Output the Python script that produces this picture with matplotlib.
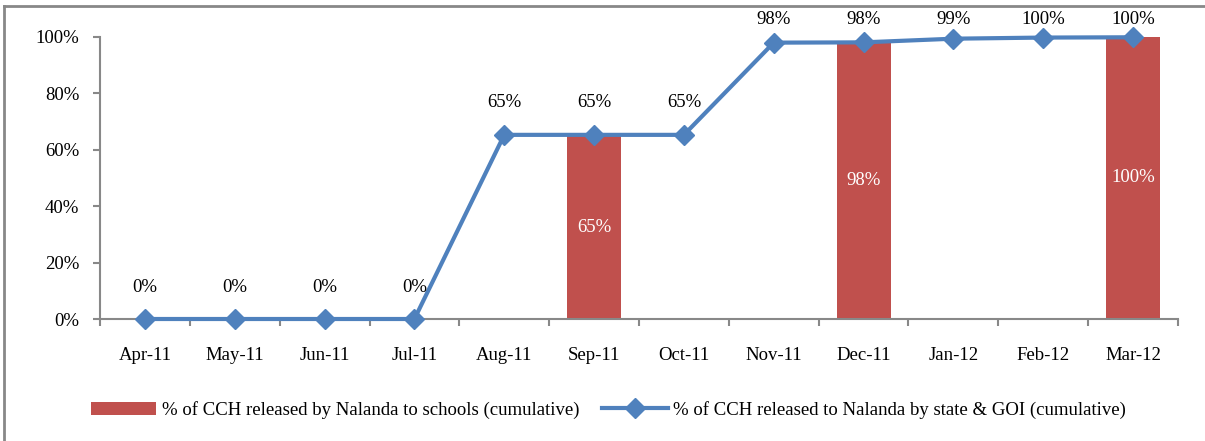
import numpy as np
import matplotlib.pyplot as plt
from matplotlib.lines import Line2D

plt.rcParams['font.family'] = ['Liberation Serif', 'DejaVu Serif']

months = ['Apr-11', 'May-11', 'Jun-11', 'Jul-11', 'Aug-11', 'Sep-11',
          'Oct-11', 'Nov-11', 'Dec-11', 'Jan-12', 'Feb-12', 'Mar-12']
# cumulative % released by Nalanda to schools (bars), None = no bar
schools = [None, None, None, None, None, 65, None, None, 98, None, None, 100]
# cumulative % released to Nalanda by state & GOI (line)
state_goi = [0, 0, 0, 0, 65.3, 65.3, 65.3, 98.0, 98.1, 99.4, 99.8, 99.9]

bar_col = '#c0504d'
line_col = '#4f81bd'
grey = '#888888'

fig = plt.figure(figsize=(12.05, 4.41), dpi=100)
ax = fig.add_axes([100/1205, 1-319/441, 1078/1205, 282/441])

x = np.arange(len(months))
bx = [i for i, v in zip(x, schools) if v is not None]
bv = [v/100 for v in schools if v is not None]
bars = ax.bar(bx, bv, width=0.6, color=bar_col,
              label='% of CCH released by Nalanda to schools (cumulative)')
for xi, v in zip(bx, bv):
    ax.text(xi, v/2, '%d%%' % round(v*100), ha='center', va='center',
            color='white', fontsize=13.5)

ys = np.array(state_goi)/100
line, = ax.plot(x, ys, color=line_col, lw=3, marker='D', ms=10, clip_on=False,
                label='% of CCH released to Nalanda by state & GOI (cumulative)',
                zorder=3)
for xi, v in zip(x, ys):
    ax.text(xi, min(v + 0.113, 1.063), '%d%%' % round(v*100), ha='center',
            va='center', fontsize=13.5)

ax.set_xlim(-0.5, len(months)-0.5)
ax.set_ylim(0, 1)
ax.set_yticks(np.arange(0, 1.01, 0.2))
ax.set_yticklabels(['%d%%' % t for t in range(0, 101, 20)], fontsize=13.5)
ax.set_xticks(x)
ax.set_xticklabels(months, fontsize=13.5)
ax.set_xticks(np.arange(-0.5, len(months), 1), minor=True)
ax.tick_params(axis='x', which='major', length=0, pad=20)
ax.tick_params(axis='x', which='minor', length=5, color=grey, width=1.5)
ax.tick_params(axis='y', length=5, color=grey, width=1.5, pad=10)
for s in ['top', 'right']:
    ax.spines[s].set_visible(False)
for s in ['left', 'bottom']:
    ax.spines[s].set_color(grey)
    ax.spines[s].set_linewidth(1.5)

fig.legend([bars, line], [bars.get_label(), line.get_label()],
           loc='center', bbox_to_anchor=(0.505, 1-410/441), ncol=2,
           frameon=False, fontsize=13.5, handlelength=3.5, columnspacing=1.2,
           handletextpad=0.3)

fig.add_artist(Line2D([4/1205, 4/1205], [0, 1-6/441], color=grey, lw=2))
fig.add_artist(Line2D([4/1205, 1], [1-6/441, 1-6/441], color=grey, lw=2))

fig.savefig('out.png', dpi=100)
